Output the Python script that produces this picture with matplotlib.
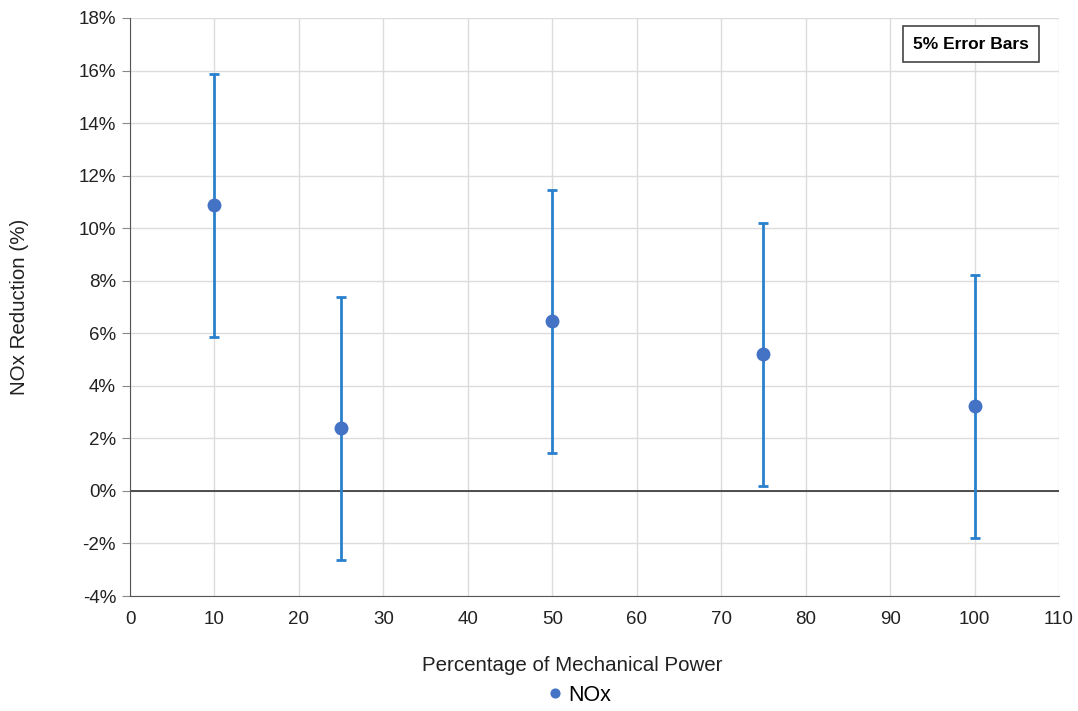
import numpy as np
import matplotlib.pyplot as plt
from matplotlib.ticker import FuncFormatter

plt.rcParams['font.family'] = ['Liberation Sans', 'DejaVu Sans']

# Data
power = [10, 25, 50, 75, 100]
nox_reduction = [10.87, 2.38, 6.45, 5.2, 3.22]
error = [5, 5, 5, 5, 5]

fig = plt.figure(figsize=(10.78, 7.11), dpi=100)
ax = fig.add_axes([0.1206, 0.1617, 0.8618, 0.813])

ax.errorbar(power, nox_reduction, yerr=error, fmt='none', ecolor='#2a80cc',
            elinewidth=2, capsize=3.5, capthick=2, zorder=3)
ax.plot(power, nox_reduction, 'o', color='#4472c4', markersize=9, zorder=4,
        label='NOx')

ax.axhline(0, color='#333333', linewidth=1.2, zorder=2)

ax.set_xlim(0, 110)
ax.set_ylim(-4, 18)
ax.set_xticks(np.arange(0, 111, 10))
ax.set_yticks(np.arange(-4, 19, 2))
ax.yaxis.set_major_formatter(FuncFormatter(lambda v, p: f'{v:.0f}%'))

ax.grid(True, color='#dcdcdc', linewidth=1)
ax.set_axisbelow(True)
for s in ['top', 'right']:
    ax.spines[s].set_visible(False)
ax.spines['left'].set_color('#555555')
ax.spines['bottom'].set_color('#555555')
ax.tick_params(axis='y', length=6, color='#888888', labelsize=13.5, colors='#222222', pad=4)
ax.tick_params(axis='x', length=0, labelsize=13.5, colors='#222222', pad=11)
ax.tick_params(axis='y', labelcolor='#222222')

ax.set_xlabel('Percentage of Mechanical Power', fontsize=14.8, color='#222222')
ax.xaxis.set_label_coords(0.476, -0.103)
ax.set_ylabel('NOx Reduction (%)', fontsize=14.8, color='#222222', labelpad=36)

ax.text(0.9677, 0.955, '5% Error Bars', transform=ax.transAxes, ha='right', va='center',
        fontsize=12.5, fontweight='bold',
        bbox=dict(boxstyle='square,pad=0.6', facecolor='white', edgecolor='#444444',
                  linewidth=1.2))

fig.legend(loc='lower center', bbox_to_anchor=(0.535, -0.02), frameon=False,
           fontsize=15.5, handletextpad=0.0, markerscale=0.7, handlelength=1.2)

fig.savefig('out.png', dpi=100)
